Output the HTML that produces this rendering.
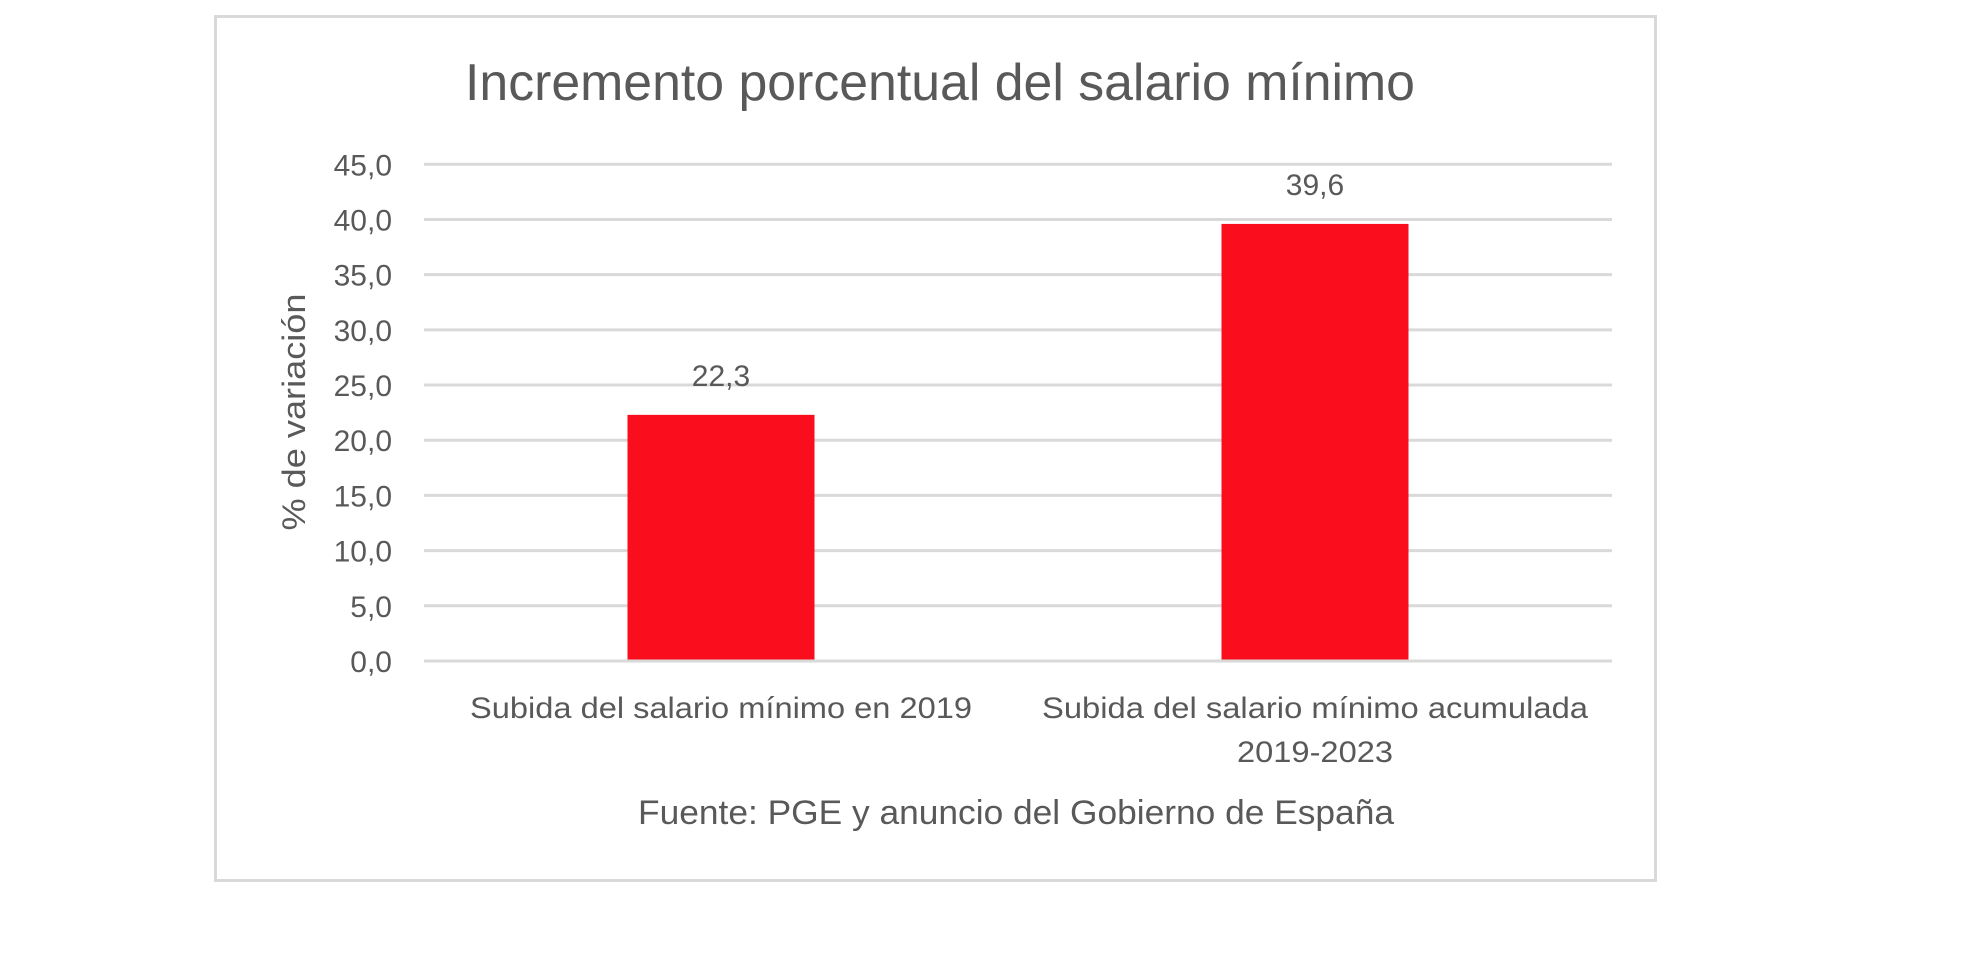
<!DOCTYPE html>
<html><head><meta charset="utf-8"><style>
html,body{margin:0;padding:0;background:#fff;width:1966px;height:958px;overflow:hidden}
svg text{font-family:"Liberation Sans",sans-serif;fill:#595959}
</style></head><body>
<svg id="chart" width="1966" height="958" viewBox="0 0 1966 958">
<rect x="215.5" y="16.5" width="1440" height="864" fill="#fff" stroke="#d9d9d9" stroke-width="3"/>
<text x="940" y="100" text-anchor="middle" font-size="52" textLength="950" lengthAdjust="spacingAndGlyphs">Incremento porcentual del salario mínimo</text>
<g id="grid"></g><g id="bars"></g><g id="labels"></g>
<text transform="translate(305,412) rotate(-90)" text-anchor="middle" font-size="32" textLength="237" lengthAdjust="spacingAndGlyphs">% de variación</text>
<text x="1016" y="824" text-anchor="middle" font-size="34" textLength="756" lengthAdjust="spacingAndGlyphs">Fuente: PGE y anuncio del Gobierno de España</text>
</svg>
<script>
const categories=[["Subida del salario mínimo en 2019"],["Subida del salario mínimo acumulada","2019-2023"]];
const values=[22.3,39.6];
const valueLabels=["22,3","39,6"];
const ticks=[0,5,10,15,20,25,30,35,40,45];
const tickLabels=["0,0","5,0","10,0","15,0","20,0","25,0","30,0","35,0","40,0","45,0"];
const NS="http://www.w3.org/2000/svg";
const x0=424,x1=1612,y0=661,yTop=164.3,yMax=45;
const y=v=>y0-(v/yMax)*(y0-yTop);
const band=(x1-x0)/categories.length;
const bw=187;
function mk(tag,attrs,parent,text){const e=document.createElementNS(NS,tag);for(const k in attrs)e.setAttribute(k,attrs[k]);if(text!==undefined)e.textContent=text;document.getElementById(parent).appendChild(e);return e;}
ticks.forEach((t,i)=>{
 const l=mk('line',{x1:x0,x2:x1,y1:y(t),y2:y(t),stroke:'#d9d9d9','stroke-width':3},'grid');
 
 
 const tx=mk('text',{x:392,y:y(t)+11,'text-anchor':'end','font-size':30},'labels',tickLabels[i]);
 
 
});
const catLen=[[502],[546,156]];
values.forEach((v,i)=>{
 const cx=x0+band*(i+0.5);
 const r=mk('rect',{x:cx-bw/2,y:y(v),width:bw,height:y0-y(v)-1.5,fill:'#fa0e1e'},'bars');
 
 
 const vl=mk('text',{x:cx,y:y(v)-29,'text-anchor':'middle','font-size':30},'labels',valueLabels[i]);
 
 
 categories[i].forEach((line,j)=>{
  const c=mk('text',{x:cx,y:718+j*44,'text-anchor':'middle','font-size':30,textLength:catLen[i][j],lengthAdjust:'spacingAndGlyphs'},'labels',line);
  
  
 });
});
</script>
</body></html>
